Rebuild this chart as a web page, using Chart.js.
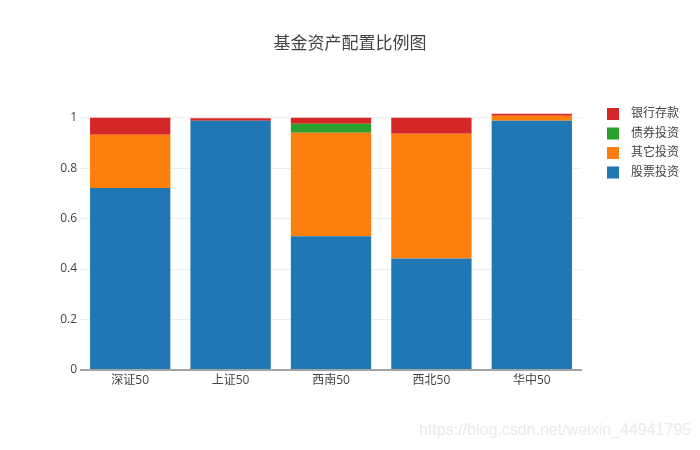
<!DOCTYPE html>
<html>
<head>
<meta charset="utf-8">
<script src="https://cdn.jsdelivr.net/npm/chart.js@4"></script>
<style>
html,body{margin:0;padding:0;background:#fff;}
#wrap{position:relative;width:700px;height:450px;}
#wm{position:absolute;left:419px;top:421px;font:16px "Liberation Sans",Arial,sans-serif;color:#ececec;text-shadow:0 0 1px #f4f4f4;white-space:nowrap;}
</style>
</head>
<body>
<div id="wrap">
<canvas id="c" width="700" height="450"></canvas>
<div id="wm">https://blog.csdn.net/weixin_44941795</div>
</div>
<script>
const categories = ['深证50', '上证50', '西南50', '西北50', '华中50'];
const stockInvest = [0.721, 0.988, 0.530, 0.442, 0.988];
const otherInvest = [0.211, 0, 0.410, 0.494, 0.020];
const bondInvest = [0, 0, 0.036, 0, 0];
const bankDeposit = [0.068, 0.010, 0.024, 0.064, 0.008];
const yTicks = [0, 0.2, 0.4, 0.6, 0.8, 1];
const titleText = '基金资产配置比例图';

const FONT = "'Open Sans','Noto Sans CJK SC',sans-serif";

const customDraw = {
  id: 'customDraw',
  afterDraw(chart) {
    const ctx = chart.ctx;
    ctx.save();
    // title
    ctx.fillStyle = '#444';
    ctx.font = "17px " + FONT;
    ctx.textAlign = 'center';
    ctx.textBaseline = 'middle';
    ctx.fillText(titleText, 350, 44);
    // legend (reversed order like plotly stacked bars)
    const ds = chart.data.datasets.slice().reverse();
    ctx.font = "12px " + FONT;
    ctx.textAlign = 'left';
    ds.forEach((d, i) => {
      const y = 114 + i * 19.5;
      ctx.fillStyle = d.backgroundColor;
      ctx.fillRect(607, y - 6, 12, 12);
      ctx.fillStyle = '#444';
      ctx.fillText(d.label, 631, y);
    });
    // x axis line
    const xs = chart.scales.x, ys = chart.scales.y;
    ctx.strokeStyle = '#a3a3a3';
    ctx.lineWidth = 2;
    ctx.beginPath();
    ctx.moveTo(xs.left, ys.getPixelForValue(0));
    ctx.lineTo(xs.right, ys.getPixelForValue(0));
    ctx.stroke();
    ctx.restore();
  }
};

new Chart(document.getElementById('c'), {
  type: 'bar',
  data: {
    labels: categories,
    datasets: [
      { label: '股票投资', data: stockInvest, backgroundColor: '#1f77b4' },
      { label: '其它投资', data: otherInvest, backgroundColor: '#ff7f0e' },
      { label: '债券投资', data: bondInvest, backgroundColor: '#2ca02c' },
      { label: '银行存款', data: bankDeposit, backgroundColor: '#d62728' }
    ]
  },
  options: {
    responsive: false,
    animation: false,
    devicePixelRatio: 1,
    layout: { padding: { top: 100, right: 118, left: 0, bottom: 0 } },
    datasets: { bar: { barPercentage: 0.8, categoryPercentage: 1.0, borderWidth: 0 } },
    plugins: { legend: { display: false }, title: { display: false }, tooltip: { enabled: false } },
    scales: {
      x: {
        stacked: true,
        grid: { display: false, drawTicks: false },
        border: { display: false },
        ticks: { color: '#444', font: { size: 12, family: FONT }, padding: 3, maxRotation: 0 },
        afterFit(s) { s.height = 80; }
      },
      y: {
        stacked: true,
        min: 0,
        max: 1.07,
        afterBuildTicks(s) { s.ticks = yTicks.map(v => ({ value: v })); },
        grid: { color: '#eeeeee', drawTicks: false, lineWidth: 1 },
        border: { display: false },
        ticks: { color: '#444', font: { size: 12, family: FONT }, padding: 3,
                 callback: v => String(v) },
        afterFit(s) { s.width = 80; }
      }
    }
  },
  plugins: [customDraw]
});
</script>
</body>
</html>
